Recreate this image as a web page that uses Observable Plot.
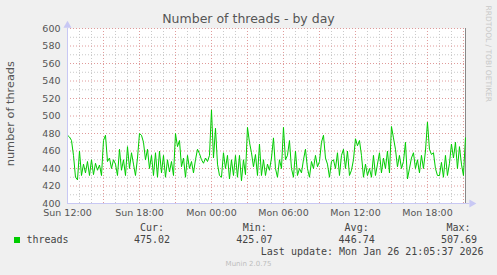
<!DOCTYPE html>
<html><head><meta charset="utf-8">
<script src="https://cdn.jsdelivr.net/npm/d3@7"></script>
<script src="https://cdn.jsdelivr.net/npm/@observablehq/plot@0.6"></script>
<style>
html,body{margin:0;padding:0;background:#f0f0f0;}
#wrap{position:relative;width:497px;height:275px;background:#f0f0f0;overflow:hidden;font-family:"DejaVu Sans",sans-serif;}
#wrap svg{position:absolute;left:0;top:0;}
.t{position:absolute;line-height:1;white-space:pre;}
.mono{font-family:"DejaVu Sans Mono",monospace;font-size:10px;color:#444;}
</style></head>
<body><div id="wrap"></div>
<script>
// ---- data ----
const title = "Number of threads - by day";
const yLabel = "number of threads";
const seriesName = "threads";
const seriesColor = "#00cc00";
const stepMinutes = 10;          // sample spacing, starting Sun 12:00
const spanHours = 33.17;         // Sun 12:00 -> Mon 21:10
const threads = [
  478,476,472,455,430,427,
  460,432,445,435,448,432,
  450,433,446,438,444,432,
  472,478,448,452,440,450,
  445,432,462,438,450,432,
  465,440,458,445,432,452,
  480,478,470,450,462,440,
  455,432,458,430,460,435,
  455,430,450,436,448,432,
  480,465,472,442,452,430,
  455,440,448,435,450,462,
  457,450,446,452,448,455,
  507,452,486,445,432,430,
  458,440,455,428,450,432,
  455,430,455,426,450,433,
  487,470,458,442,456,432,
  468,432,450,432,445,438,
  452,475,440,430,450,440,
  487,450,455,472,440,430,
  460,432,440,435,450,462,
  440,430,448,440,455,442,
  448,470,478,452,445,430,
  448,450,440,458,432,455,
  462,440,460,432,438,450,
  474,466,472,455,430,445,
  432,440,430,455,432,445,
  458,435,452,440,460,435,
  488,475,462,442,455,440,
  448,470,428,440,452,458,
  440,450,435,455,440,460,
  493,462,456,458,440,432,
  432,447,430,455,432,446,
  468,452,470,440,465,445,
  432,475
];
const xTickHours = [0, 6, 12, 18, 24, 30];
const xTickLabels = ["Sun 12:00", "Sun 18:00", "Mon 00:00", "Mon 06:00", "Mon 12:00", "Mon 18:00"];
const yTicks = [400, 420, 440, 460, 480, 500, 520, 540, 560, 580, 600];
const yMinor = [410, 430, 450, 470, 490, 510, 530, 550, 570, 590];
const xMajorGrid = [0, 3, 6, 9, 12, 15, 18, 21, 24, 27, 30, 33];
const xMinorGrid = d3.range(0, 34).filter(h => h % 3 !== 0);
const statLabels = ["Cur:", "Min:", "Avg:", "Max:"];
const statValues = ["475.02", "425.07", "446.74", "507.69"];
const lastUpdate = "Last update: Mon Jan 26 21:05:37 2026";
const footer = "Munin 2.0.75";
const watermark = "RRDTOOL / TOBI OETIKER";

// ---- chart ----
const data = threads.map((v, i) => ({h: i * stepMinutes / 60, v}));
const axisColor = "#c8c8f4";
const chart = Plot.plot({
  width: 497, height: 222,
  marginLeft: 67, marginRight: 32, marginTop: 28, marginBottom: 19,
  style: {background: "transparent", fontFamily: "DejaVu Sans", fontSize: "9.5px", color: "#555", overflow: "visible"},
  x: {domain: [0, spanHours], ticks: xTickHours, tickFormat: (d, i) => xTickLabels[xTickHours.indexOf(d)], tickSize: 0, tickPadding: 6, label: null},
  y: {domain: [400, 600], ticks: yTicks, tickSize: 0, tickPadding: 7, label: null},
  marks: [
    Plot.frame({fill: "white", stroke: null}),
    Plot.ruleY(yMinor, {stroke: "#c8c8c8", strokeDasharray: "1,2"}),
    Plot.ruleX(xMinorGrid, {stroke: "#c8c8c8", strokeDasharray: "1,2"}),
    Plot.ruleY(yTicks.slice(1), {stroke: "#e09a9a", strokeDasharray: "1,2"}),
    Plot.ruleX(xMajorGrid.slice(1), {stroke: "#e09a9a", strokeDasharray: "1,2"}),
    Plot.ruleX([spanHours], {stroke: "#888"}),
    Plot.line(data, {x: "h", y: "v", stroke: seriesColor, strokeWidth: 1}),
    Plot.ruleX([0], {y1: 400, y2: 600, stroke: axisColor, dy: 0}),
    Plot.ruleY([400], {x1: 0, x2: spanHours + 0.35, stroke: axisColor}),
    Plot.dot([600], {x: 0, y: d => d, symbol: "triangle", r: 3, fill: axisColor, stroke: null, dy: -3}),
    Plot.dot([400], {x: spanHours + 0.35, y: d => d, symbol: "triangle", r: 3, fill: axisColor, stroke: null, rotate: 90, dx: 2})
  ]
});
const wrap = document.getElementById("wrap");
wrap.appendChild(chart);

function addText(txt, cls, css) {
  const d = document.createElement("div");
  d.className = "t " + cls;
  d.textContent = txt;
  Object.assign(d.style, css);
  wrap.appendChild(d);
  return d;
}
// title
addText(title, "", {left: "0px", width: "497px", textAlign: "center", top: "13.4px", fontSize: "12.5px", color: "#555"});
// y label
addText(yLabel, "", {left: (11.1 - 60) + "px", width: "120px", textAlign: "center", top: (114 - 5.65) + "px", fontSize: "11.3px", color: "#555", transform: "rotate(-90deg)", transformOrigin: "50% 50%"});
// watermark
addText(watermark, "", {left: (487.6 - 60) + "px", width: "120px", textAlign: "center", top: (53.5 - 3.75) + "px", fontSize: "7.5px", color: "#c8c8c8", transform: "rotate(90deg)", transformOrigin: "50% 50%"});
// legend
const sw = document.createElement("div");
Object.assign(sw.style, {position: "absolute", left: "14px", top: "237px", width: "6px", height: "6px", background: seriesColor});
wrap.appendChild(sw);
addText(seriesName, "mono", {left: "26.5px", top: "234.5px"});
const labelX = [140, 242.8, 344.6, 446.4];
const valueX = [134, 236.3, 338.6, 440.9];
statLabels.forEach((s, i) => addText(s, "mono", {left: labelX[i] + "px", top: "222.5px"}));
statValues.forEach((s, i) => addText(s, "mono", {left: valueX[i] + "px", top: "234.5px"}));
addText(lastUpdate, "mono", {left: "260.8px", top: "246.5px"});
addText(footer, "", {left: "0px", width: "497px", textAlign: "center", top: "260.8px", fontSize: "7px", color: "#bdbdbd"});
</script>
</body></html>
